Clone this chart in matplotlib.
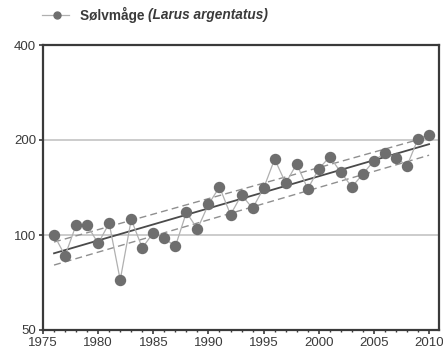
import numpy as np
import matplotlib.pyplot as plt
from matplotlib.ticker import FixedLocator, ScalarFormatter, NullLocator, MultipleLocator

plt.rcParams['font.family'] = ['Liberation Sans', 'DejaVu Sans']

years = np.arange(1976, 2011)
index = [100, 86, 107.6, 107.6, 94, 109, 72, 112, 91, 101.7,
         97.6, 92, 118, 104.5, 125, 142, 116, 134, 121.5, 140.6,
         174, 146, 168, 140, 162, 177, 158, 142, 156, 172,
         182, 176, 165.5, 202, 208]

trend_years = [1976, 2010]
trend = [87.5, 194]
trend_upper = [95, 205]
trend_lower = [80.3, 179]

y_ticks = [50, 100, 200, 400]
legend_name = 'Sølvmåge'
legend_latin = '(Larus argentatus)'

fig = plt.figure(figsize=(4.43, 3.6), dpi=100)
ax = fig.add_axes([43 / 443, 30 / 360, 396 / 443, 285 / 360])

ax.set_yscale('log')
ax.set_ylim(50, 400)
ax.set_xlim(1975, 2010.9)

for g in (100, 200):
    ax.axhline(g, color='#c4c4c4', lw=1.2, zorder=0)

ax.plot(trend_years, trend_upper, color='#8f8f8f', lw=1.0, ls=(0, (5, 3)), zorder=2)
ax.plot(trend_years, trend_lower, color='#8f8f8f', lw=1.0, ls=(0, (5, 3)), zorder=2)
ax.plot(trend_years, trend, color='#4a4a4a', lw=1.3, zorder=2)

ax.plot(years, index, color='#b0b0b0', lw=0.9, zorder=3)
ax.plot(years, index, ls='none', marker='o', ms=7.2, mfc='#6e6e6e', mec='#6e6e6e', zorder=4)

ax.yaxis.set_major_locator(FixedLocator(y_ticks))
ax.yaxis.set_major_formatter(ScalarFormatter())
ax.yaxis.set_minor_locator(NullLocator())
ax.xaxis.set_major_locator(MultipleLocator(5))
ax.xaxis.set_minor_locator(MultipleLocator(1))

for s in ax.spines.values():
    s.set_color('#3a3a3a')
    s.set_linewidth(1.6)
ax.tick_params(axis='both', which='major', labelsize=9.5, colors='#3a3a3a', labelcolor='#3a3a3a',
               length=3, width=1.2, pad=2)
ax.tick_params(axis='x', which='minor', length=1.5, width=1, colors='#3a3a3a')

# legend drawn by hand above the axes
fig.lines.append(plt.Line2D([42 / 443, 69 / 443], [1 - 15 / 360] * 2, transform=fig.transFigure,
                            color='#b0b0b0', lw=0.9))
fig.lines.append(plt.Line2D([57 / 443], [1 - 15 / 360], transform=fig.transFigure,
                            ls='none', marker='o', ms=5, mfc='#6e6e6e', mec='#6e6e6e'))
t1 = fig.text(80 / 443, 1 - 15 / 360, legend_name + ' ', fontsize=9.8, fontweight='bold',
              color='#3a3a3a', va='center', ha='left')
fig.canvas.draw()
bb = t1.get_window_extent()
fig.text(bb.x1 / 443, 1 - 15 / 360, legend_latin, fontsize=9.8, fontweight='bold',
         style='italic', color='#3a3a3a', va='center', ha='left')

fig.savefig('out.png', dpi=100)
